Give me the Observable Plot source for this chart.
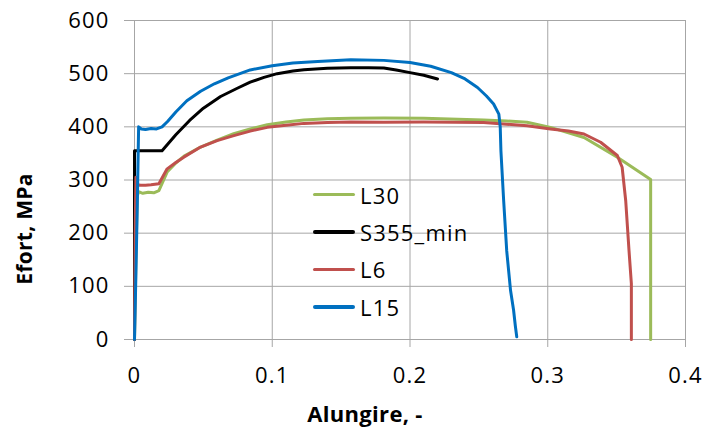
<!DOCTYPE html>
<html><head><meta charset="utf-8">
<script src="https://cdn.jsdelivr.net/npm/d3@7"></script>
<script src="https://cdn.jsdelivr.net/npm/@observablehq/plot@0.6"></script>
<style>
body{margin:0;background:#fff;}
#chart{position:relative;width:704px;height:432px;font-family:"Open Sans",sans-serif;}
#chart svg text{letter-spacing:1.2px;}
#legend{position:absolute;left:313px;top:176px;font-size:22px;letter-spacing:1.2px;color:#000;}
#legend .row{display:flex;align-items:center;height:37.4px;}
#legend .sw{width:42px;height:3.5px;margin-right:5px;border-radius:2px;}
#ytitle{position:absolute;left:24px;top:229px;transform:translate(-50%,-50%) rotate(-90deg);white-space:nowrap;font-weight:bold;font-size:21px;letter-spacing:0.3px;line-height:1;color:#000;}
</style></head><body><div id="chart"></div>
<script>
const seriesNames = ["L30", "S355_min", "L6", "L15"];
const seriesColors = ["#9bbb59", "#000000", "#c0504d", "#0070c0"];
const xTicks = [0, 0.1, 0.2, 0.3, 0.4];
const yTicks = [0, 100, 200, 300, 400, 500, 600];
const xTitle = "Alungire, -";
const yTitle = "Efort, MPa";

const L30_x = [0, 0.001, 0.002, 0.003, 0.006, 0.01, 0.014, 0.0177, 0.0237, 0.03, 0.036, 0.048, 0.06, 0.072, 0.084, 0.0964, 0.11, 0.123, 0.14, 0.157, 0.181, 0.21, 0.2535, 0.27, 0.285, 0.302, 0.3263, 0.3505, 0.3747, 0.3747];
const L30_y = [0, 150, 270, 278, 275, 277, 276, 280, 315, 332, 345, 362, 375, 387, 396, 404, 409, 413, 415, 416, 416.5, 416, 413, 411, 408.6, 399, 380, 343, 301, 0];

const S355_x = [0, 0, 0.02, 0.03, 0.04, 0.05, 0.0625, 0.075, 0.084, 0.094, 0.1036, 0.115, 0.123, 0.14, 0.157, 0.17, 0.181, 0.19, 0.2, 0.21, 0.22];
const S355_y = [0, 355, 355, 385, 412, 435, 457, 473, 484, 493, 500, 505, 507.5, 510, 511, 511, 510.5, 507, 502, 497, 490];

const L6_x = [0, 0.0005, 0.001, 0.002, 0.004, 0.008, 0.012, 0.0177, 0.0237, 0.03, 0.0358, 0.048, 0.06, 0.0721, 0.084, 0.0964, 0.11, 0.123, 0.14, 0.157, 0.181, 0.21, 0.2535, 0.27, 0.285, 0.302, 0.315, 0.3263, 0.3384, 0.3505, 0.354, 0.3566, 0.359, 0.3607, 0.3607];
const L6_y = [0, 200, 305, 292, 290, 290, 291, 293, 321, 333, 343, 362, 374, 383.5, 392, 399, 403, 406.5, 408, 409, 408.5, 409, 408, 405, 402, 396, 392, 386.5, 371, 346, 324, 261, 167, 105, 0];

const L15_x = [0, 0.001, 0.002, 0.003, 0.005, 0.008, 0.012, 0.016, 0.02, 0.024, 0.03, 0.038, 0.048, 0.058, 0.068, 0.084, 0.1, 0.115, 0.133, 0.157, 0.181, 0.2, 0.215, 0.23, 0.24, 0.249, 0.2555, 0.2607, 0.2645, 0.2655, 0.266, 0.268, 0.2702, 0.273, 0.2752, 0.2765, 0.2775];
const L15_y = [0, 120, 250, 400, 396, 395, 397, 396, 400, 410, 428, 449, 467, 481, 492, 507, 515, 520, 523, 526, 525, 521, 514, 502, 490, 474, 458, 443, 424, 400, 355, 261, 167, 92, 55, 25, 5];

const seriesX = [L30_x, S355_x, L6_x, L15_x];
const seriesY = [L30_y, S355_y, L6_y, L15_y];

const data = [];
seriesNames.forEach((name, k) => {
  seriesX[k].forEach((x, i) => data.push({series: name, x, y: seriesY[k][i]}));
});

const grid = "#a6a6a6";
const fmt = d => String(d);
const plot = Plot.plot({
  width: 704, height: 432,
  marginLeft: 134, marginRight: 19, marginTop: 20, marginBottom: 93,
  style: {fontFamily: "Open Sans, sans-serif", fontSize: "22px", color: "#000", background: "#fff", overflow: "visible"},
  x: {domain: [0, 0.4], label: null},
  y: {domain: [0, 600], label: null},
  color: {domain: seriesNames, range: seriesColors},
  marks: [
    Plot.gridX(xTicks, {stroke: grid, strokeOpacity: 1}),
    Plot.gridY(yTicks, {stroke: grid, strokeOpacity: 1}),
    Plot.axisX(xTicks, {tickSize: 8, tickPadding: 20, stroke: grid, fill: "#000", label: null, fontSize: 22, tickFormat: fmt}),
    Plot.axisY(yTicks, {tickSize: 10, tickPadding: 15, stroke: grid, fill: "#000", label: null, fontSize: 22, tickFormat: fmt}),
    Plot.line(data, {x: "x", y: "y", z: "series", stroke: "series", strokeWidth: 3, strokeLinejoin: "round", strokeLinecap: "round"}),
    Plot.text([xTitle], {frameAnchor: "bottom", dx: -45, dy: 75, fontWeight: "bold", fontSize: 22, lineAnchor: "middle"})
  ]
});
const chart = document.getElementById("chart");
chart.appendChild(plot);
plot.querySelectorAll("text").forEach(t => {
  if (t.textContent === xTitle) t.style.letterSpacing = "0.3px";
});
const yt = document.createElement("div");
yt.id = "ytitle";
yt.textContent = yTitle;
chart.appendChild(yt);
const legend = document.createElement("div");
legend.id = "legend";
seriesNames.forEach((name, k) => {
  const row = document.createElement("div");
  row.className = "row";
  const sw = document.createElement("div");
  sw.className = "sw";
  sw.style.background = seriesColors[k];
  const t = document.createElement("span");
  t.textContent = name;
  row.appendChild(sw); row.appendChild(t);
  legend.appendChild(row);
});
chart.appendChild(legend);
</script></body></html>
